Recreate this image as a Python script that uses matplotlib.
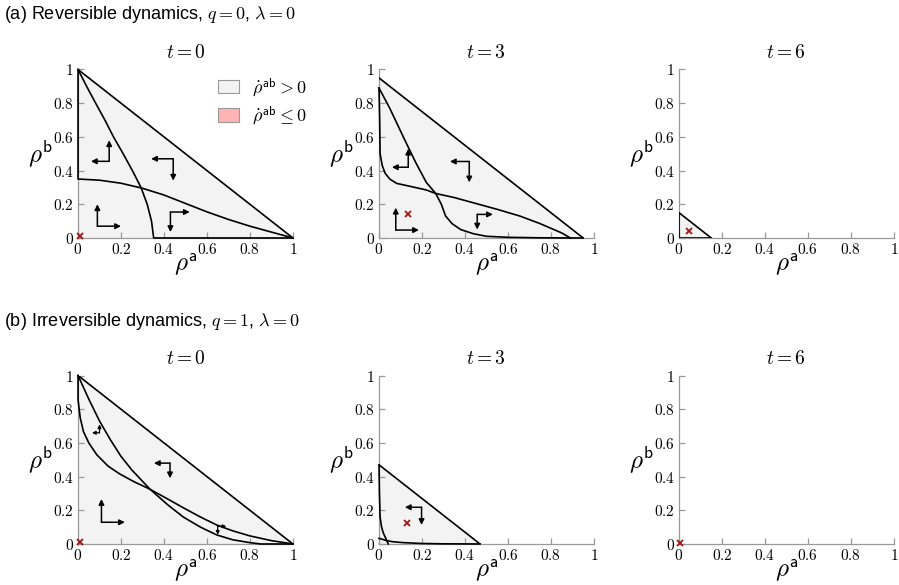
import numpy as np
import matplotlib
matplotlib.use("Agg")
import matplotlib.pyplot as plt
from matplotlib.patches import Patch

plt.rcParams['mathtext.fontset'] = 'cm'
plt.rcParams['font.family'] = ['Liberation Serif', 'DejaVu Serif']

# ---- data ----
times = [0, 3, 6]
row_titles = ["(a) Reversible dynamics, $q = 0$, $\\lambda = 0$",
              "(b) Irreversible dynamics, $q = 1$, $\\lambda = 0$"]
tick_vals = [0, 0.2, 0.4, 0.6, 0.8, 1]
tick_labels = ["$0$", "$0.2$", "$0.4$", "$0.6$", "$0.8$", "$1$"]

# size of the simplex region (rho_a + rho_b <= s) per panel
simplex_a = [1.0, 0.95, 0.15]
simplex_b = [1.0, 0.47, 0.0]

# nullclines, row (a)
a0_nullA_x = [0, 0.04, 0.082, 0.125, 0.165, 0.21, 0.253, 0.293, 0.322, 0.342, 0.352, 1.0]
a0_nullA_y = [1, 0.9, 0.8, 0.7, 0.6, 0.5, 0.4, 0.3, 0.2, 0.1, 0.0, 0.0]
a0_nullB_x = [0, 0, 0.1, 0.2, 0.3, 0.4, 0.5, 0.6, 0.7, 0.8, 0.9, 1.0]
a0_nullB_y = [1, 0.35, 0.343, 0.325, 0.295, 0.255, 0.205, 0.155, 0.11, 0.07, 0.035, 0]

a3_nullA_x = [0, 0.05, 0.113, 0.17, 0.22, 0.264, 0.29, 0.31, 0.34, 0.38, 0.44, 0.5, 0.6, 0.75, 0.9, 0.95]
a3_nullA_y = [0.89, 0.77, 0.60, 0.45, 0.33, 0.264, 0.2, 0.13, 0.085, 0.05, 0.025, 0.01, 0.004, 0.001, 0, 0]
a3_nullB_x = [0, 0.003, 0.005, 0.015, 0.028, 0.05, 0.082, 0.15, 0.22, 0.264, 0.35, 0.45, 0.55, 0.656, 0.75, 0.85, 0.89]
a3_nullB_y = [0.89, 0.7, 0.5, 0.43, 0.385, 0.35, 0.324, 0.305, 0.285, 0.264, 0.24, 0.205, 0.17, 0.13, 0.085, 0.03, 0.0]

# nullclines, row (b)
b0_nullA_x = [0, 0.05, 0.1, 0.15, 0.2, 0.25, 0.335, 0.42, 0.49, 0.57, 0.645, 0.72, 0.8, 0.85, 1.0]
b0_nullA_y = [1.0, 0.86, 0.73, 0.62, 0.52, 0.44, 0.325, 0.23, 0.16, 0.1, 0.054, 0.025, 0.008, 0, 0]
b0_nullB_x = [0, 0, 0.01, 0.025, 0.05, 0.087, 0.14, 0.195, 0.26, 0.335, 0.42, 0.49, 0.57, 0.645, 0.72, 0.8, 0.9, 1.0]
b0_nullB_y = [1.0, 0.857, 0.75, 0.668, 0.6, 0.53, 0.462, 0.415, 0.37, 0.325, 0.265, 0.215, 0.16, 0.113, 0.078, 0.048, 0.02, 0]

b3_nullA_x = [0, 0.002, 0.005, 0.012, 0.02, 0.028, 0.036, 0.043]
b3_nullA_y = [0.47, 0.3, 0.16, 0.1, 0.065, 0.043, 0.02, 0]
b3_nullB_x = [0, 0.03, 0.06, 0.113, 0.2, 0.3, 0.47]
b3_nullB_y = [0.034, 0.022, 0.014, 0.008, 0.003, 0.001, 0]

# direction arrows: (corner x, corner y, vertical tip y, horizontal tip x)
a0_arrows = [(0.09, 0.07, 0.20, 0.20), (0.145, 0.455, 0.58, 0.06),
             (0.443, 0.47, 0.34, 0.34), (0.43, 0.154, 0.035, 0.52)]
a3_arrows = [(0.078, 0.047, 0.18, 0.186), (0.136, 0.42, 0.53, 0.06),
             (0.42, 0.454, 0.33, 0.33), (0.457, 0.14, 0.05, 0.53)]
b0_arrows = [(0.109, 0.129, 0.267, 0.218), (0.428, 0.48, 0.39, 0.353)]
b0_small_arrows = [(0.10, 0.66, 0.71, 0.065), (0.65, 0.105, 0.055, 0.69)]
b3_arrows = [(0.198, 0.218, 0.113, 0.12)]

# fixed point markers
cross_a = [(0.01, 0.01), (0.136, 0.14), (0.047, 0.043)]
cross_b = [(0.01, 0.01), (0.129, 0.127), (0.005, 0.005)]

fill_col = '#f3f3f3'
red_fill = '#ffb3b3'
cross_col = '#a31515'
spine_col = '#999999'

nullclines = {
    (0, 0): [(a0_nullA_x, a0_nullA_y), (a0_nullB_x, a0_nullB_y)],
    (0, 1): [(a3_nullA_x, a3_nullA_y), (a3_nullB_x, a3_nullB_y)],
    (1, 0): [(b0_nullA_x, b0_nullA_y), (b0_nullB_x, b0_nullB_y)],
    (1, 1): [(b3_nullA_x, b3_nullA_y), (b3_nullB_x, b3_nullB_y)],
}
arrows = {(0, 0): a0_arrows, (0, 1): a3_arrows,
          (1, 0): b0_arrows, (1, 1): b3_arrows}


def draw_arrow(ax, x0, y0, x1, y1, scale, lw=1.1):
    ax.annotate('', xy=(x1, y1), xytext=(x0, y0),
                arrowprops=dict(arrowstyle='-|>', lw=lw, color='k',
                                mutation_scale=scale, shrinkA=0, shrinkB=0))


fig = plt.figure(figsize=(8.99, 5.85), dpi=100)
lefts = [0.0868, 0.4216, 0.7553]
bottoms = [0.5932, 0.0701]
W, H = 0.239, 0.288

for r in range(2):
    simplex = simplex_a if r == 0 else simplex_b
    crosses = cross_a if r == 0 else cross_b
    for c in range(3):
        ax = fig.add_axes([lefts[c], bottoms[r], W, H])
        s = simplex[c]
        if s > 0:
            ax.fill([0, s, 0], [0, 0, s], color=fill_col, lw=0, zorder=1)
            ax.plot([0, s], [s, 0], color='k', lw=1.2, zorder=3)
            if s < 0.3:
                ax.plot([0, s], [0, 0], color='k', lw=1.2, zorder=3)
                ax.plot([0, 0], [0, s], color='k', lw=1.2, zorder=3)
        for (xs, ys) in nullclines.get((r, c), []):
            ax.plot(xs, ys, color='k', lw=1.2, zorder=3, clip_on=False)
        for (cx, cy, ty, tx) in arrows.get((r, c), []):
            draw_arrow(ax, cx, cy, cx, ty, 8)
            draw_arrow(ax, cx, cy, tx, cy, 8)
        if (r, c) == (1, 0):
            for (cx, cy, ty, tx) in b0_small_arrows:
                draw_arrow(ax, cx, cy, cx, ty, 5, lw=0.9)
                draw_arrow(ax, cx, cy, tx, cy, 5, lw=0.9)
        ax.plot(*crosses[c], marker='x', color=cross_col, ms=5, mew=1.3,
                zorder=5, clip_on=False)

        ax.set_xlim(0, 1)
        ax.set_ylim(0, 1)
        ax.set_xticks(tick_vals)
        ax.set_xticklabels(tick_labels)
        ax.set_yticks(tick_vals)
        ax.set_yticklabels(tick_labels)
        for sp in ['top', 'right']:
            ax.spines[sp].set_visible(False)
        for sp in ['left', 'bottom']:
            ax.spines[sp].set_color(spine_col)
            ax.spines[sp].set_linewidth(0.9)
        ax.tick_params(direction='in', length=4, width=0.9, color=spine_col,
                       labelsize=11)
        ax.tick_params(axis='x', pad=3)
        ax.tick_params(axis='y', pad=3)
        ax.set_xlabel('$\\rho^{\\mathsf{a}}$', fontsize=18, labelpad=-4)
        ax.set_ylabel('$\\rho^{\\mathsf{b}}$', fontsize=18, rotation=0,
                      ha='right', va='center')
        ax.yaxis.set_label_coords(-0.115, 0.5)
        ax.set_title('$t = %d$' % times[c], fontsize=14, pad=8)

        if (r, c) == (0, 0):
            handles = [Patch(facecolor=fill_col, edgecolor='#999999', lw=0.8),
                       Patch(facecolor=red_fill, edgecolor='#999999', lw=0.8)]
            ax.legend(handles, ['$\\dot{\\rho}^{\\mathsf{ab}} > 0$',
                                '$\\dot{\\rho}^{\\mathsf{ab}} \\leq 0$'],
                      loc='upper right', bbox_to_anchor=(1.14, 1.06),
                      frameon=False, fontsize=13, handlelength=1.2,
                      handleheight=0.8, labelspacing=0.3, handletextpad=0.7)

fig.text(0.004, 0.993, row_titles[0], fontsize=13, family='Liberation Sans',
         va='top', ha='left')
fig.text(0.004, 0.468, row_titles[1], fontsize=13, family='Liberation Sans',
         va='top', ha='left')

fig.savefig('out.png', dpi=100)
